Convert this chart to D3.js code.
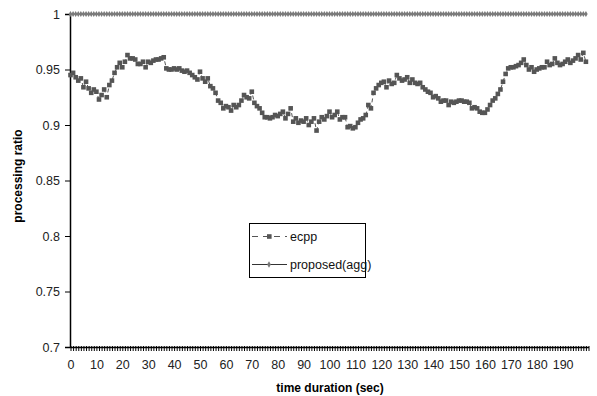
<!DOCTYPE html>
<html>
<head>
<meta charset="utf-8">
<script src="https://cdn.jsdelivr.net/npm/d3@7"></script>
<style>
  body { margin: 0; background: #fff; }
  text { font-family: "Liberation Sans", Arial, sans-serif; }
</style>
</head>
<body>
<div id="chart"></div>
<script>
// time index (sec), 0..199
const times = d3.range(0, 200);

const ecpp = [
  0.945, 0.947, 0.943, 0.940, 0.942, 0.934, 0.939, 0.933, 0.929, 0.932,
  0.930, 0.923, 0.927, 0.932, 0.925, 0.936, 0.940, 0.947, 0.952, 0.956,
  0.952, 0.957, 0.963, 0.960, 0.960, 0.959, 0.955, 0.955, 0.957, 0.952,
  0.957, 0.956, 0.958, 0.959, 0.959, 0.960, 0.961, 0.951, 0.950, 0.950,
  0.951, 0.950, 0.951, 0.949, 0.948, 0.949, 0.947, 0.945, 0.943, 0.941,
  0.948, 0.942, 0.939, 0.942, 0.935, 0.933, 0.929, 0.922, 0.920, 0.915,
  0.917, 0.916, 0.913, 0.918, 0.916, 0.918, 0.922, 0.927, 0.925, 0.924,
  0.930, 0.920, 0.917, 0.915, 0.911, 0.907, 0.907, 0.906, 0.907, 0.909,
  0.908, 0.910, 0.912, 0.906, 0.910, 0.915, 0.903, 0.906, 0.902, 0.904,
  0.903, 0.906, 0.900, 0.903, 0.906, 0.895, 0.903, 0.907, 0.905, 0.908,
  0.912, 0.907, 0.909, 0.912, 0.905, 0.907, 0.907, 0.898, 0.899, 0.897,
  0.898, 0.902, 0.905, 0.906, 0.909, 0.918, 0.915, 0.929, 0.933, 0.936,
  0.938, 0.939, 0.934, 0.940, 0.937, 0.938, 0.945, 0.942, 0.940, 0.941,
  0.943, 0.938, 0.941, 0.938, 0.937, 0.938, 0.934, 0.932, 0.930, 0.929,
  0.925, 0.926, 0.924, 0.921, 0.922, 0.922, 0.918, 0.921, 0.920, 0.921,
  0.922, 0.922, 0.921, 0.921, 0.920, 0.915, 0.916, 0.915, 0.912, 0.911,
  0.911, 0.914, 0.918, 0.922, 0.924, 0.928, 0.932, 0.939, 0.946, 0.951,
  0.952, 0.952, 0.953, 0.954, 0.956, 0.959, 0.954, 0.950, 0.952, 0.948,
  0.950, 0.951, 0.952, 0.952, 0.957, 0.954, 0.955, 0.960, 0.956, 0.954,
  0.955, 0.957, 0.959, 0.956, 0.958, 0.960, 0.963, 0.959, 0.965, 0.957
];

const proposed = times.map(() => 1);

const yTicks = [0.7, 0.75, 0.8, 0.85, 0.9, 0.95, 1];
const xLabelStep = 10;
const seriesNames = ['ecpp', 'proposed(agg)'];

const width = 597, height = 396;
const svg = d3.select('#chart').append('svg')
  .attr('width', width).attr('height', height);

const x = d3.scaleLinear().domain([0, 200]).range([70.5, 588.5]);
const y = d3.scaleLinear().domain([0.7, 1]).range([347, 14]);

// y axis
const yAxis = svg.append('g')
  .attr('transform', 'translate(70,0)')
  .call(d3.axisLeft(y).tickValues(yTicks).tickSize(5).tickPadding(5)
    .tickFormat(d => String(+d.toFixed(2))));
yAxis.select('.domain').attr('stroke', '#000').attr('stroke-width', 1.5);
yAxis.selectAll('.tick line').attr('stroke', '#000');
yAxis.selectAll('text').attr('font-size', 12.5).attr('fill', '#222');

// x axis, one tick per second
const xAxis = svg.append('g')
  .attr('transform', 'translate(0,347)')
  .call(d3.axisBottom(x).tickValues(d3.range(0, 201)).tickSize(4).tickPadding(9)
    .tickSizeOuter(0)
    .tickFormat(d => (d % xLabelStep === 0 && d < 200) ? d : ''));
xAxis.select('.domain').attr('stroke', '#000').attr('stroke-width', 1.5);
xAxis.selectAll('.tick line').attr('stroke', '#000').attr('stroke-width', 1)
  .attr('y1', -1);
xAxis.selectAll('text').attr('font-size', 12.5).attr('fill', '#222');

// axis titles
svg.append('text')
  .attr('x', 330).attr('y', 392)
  .attr('text-anchor', 'middle')
  .attr('font-size', 12).attr('font-weight', 'bold')
  .text('time duration (sec)');

svg.append('text')
  .attr('transform', 'translate(22,176) rotate(-90)')
  .attr('text-anchor', 'middle')
  .attr('font-size', 12).attr('font-weight', 'bold')
  .text('processing ratio');

// proposed(agg) series
const line = d3.line().x((d, i) => x(times[i])).y(d => y(d));

svg.append('path')
  .datum(proposed)
  .attr('fill', 'none')
  .attr('stroke', '#555')
  .attr('stroke-width', 1)
  .attr('d', line);

svg.append('g').selectAll('path')
  .data(proposed)
  .join('path')
  .attr('d', d3.symbol(d3.symbolDiamond, 11))
  .attr('transform', (d, i) => `translate(${x(times[i])},${y(d)})`)
  .attr('fill', '#7a7a7a');

// ecpp series
svg.append('path')
  .datum(ecpp)
  .attr('fill', 'none')
  .attr('stroke', '#555')
  .attr('stroke-width', 1)
  .attr('stroke-dasharray', '4,3')
  .attr('d', line);

svg.append('g').selectAll('rect')
  .data(ecpp)
  .join('rect')
  .attr('x', (d, i) => x(times[i]) - 2.3)
  .attr('y', d => y(d) - 2.3)
  .attr('width', 4.6).attr('height', 4.6)
  .attr('fill', '#555');

// legend
const legend = svg.append('g').attr('transform', 'translate(249,223)');
legend.append('rect')
  .attr('x', 0.5).attr('y', 0.5)
  .attr('width', 116).attr('height', 54)
  .attr('fill', '#fff').attr('stroke', '#000');

const rows = [13.5, 41.5];
legend.append('line')
  .attr('x1', 3).attr('x2', 38).attr('y1', rows[0]).attr('y2', rows[0])
  .attr('stroke', '#555').attr('stroke-dasharray', '6,5');
legend.append('rect')
  .attr('x', 18).attr('y', rows[0] - 2.3).attr('width', 4.6).attr('height', 4.6)
  .attr('fill', '#555');
legend.append('line')
  .attr('x1', 3).attr('x2', 38).attr('y1', rows[1]).attr('y2', rows[1])
  .attr('stroke', '#333');
legend.append('path')
  .attr('d', d3.symbol(d3.symbolDiamond, 12))
  .attr('transform', `translate(20,${rows[1]})`)
  .attr('fill', '#777');

legend.selectAll('text.lbl')
  .data(seriesNames)
  .join('text')
  .attr('class', 'lbl')
  .attr('x', 41)
  .attr('y', (d, i) => rows[i] + 4.5)
  .attr('font-size', 12.5)
  .attr('fill', '#111')
  .text(d => d);
</script>
</body>
</html>
